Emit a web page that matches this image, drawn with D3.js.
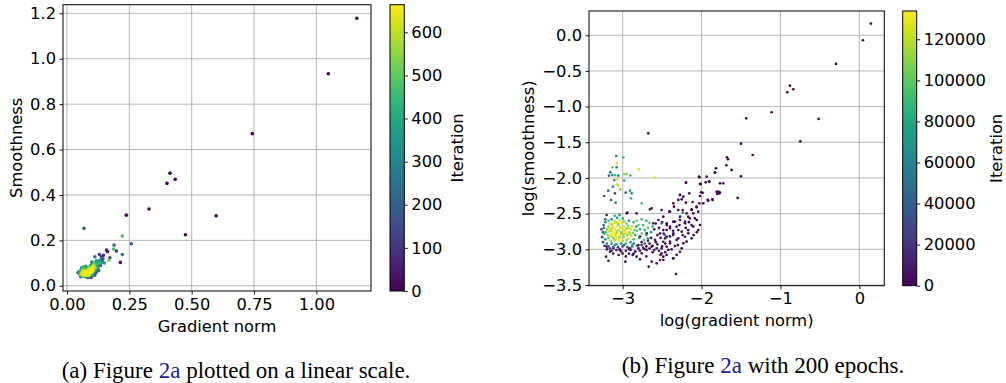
<!DOCTYPE html>
<html>
<head>
<meta charset="utf-8">
<script src="https://cdn.jsdelivr.net/npm/d3@7"></script>
<style>
body { margin: 0; background: #fff; }
svg text { font-family: "DejaVu Sans", sans-serif; fill: #000; }
.caption { font-family: "Liberation Serif", "Times New Roman", serif; }
.grid line { stroke: #b0b0b0; stroke-width: 0.9; }
</style>
</head>
<body>
<svg id="fig" width="1006" height="383"></svg>
<script>
// -------------------------------- Datos ------------------------------
// panel (a): [gradient norm, smoothness, iteration]
const leftOutliers = [
  [1.162,1.178,0],[1.048,0.934,1],[0.743,0.670,2],[0.413,0.496,4],[0.434,0.469,5],[0.401,0.451,3],
  [0.329,0.338,8],[0.238,0.311,10],[0.598,0.308,6],[0.475,0.225,7],[0.214,0.103,30],[0.068,0.253,200],
  [0.258,0.185,190],[0.222,0.219,470],[0.222,0.138,240],[0.189,0.179,300],[0.187,0.162,480],
  [0.198,0.153,110],[0.159,0.157,70],[0.163,0.150,60],[0.172,0.123,160],[0.167,0.113,520],
  [0.146,0.134,90],[0.130,0.138,120],[0.140,0.121,210],[0.112,0.128,280],[0.130,0.099,450],
  [0.150,0.100,330],[0.127,0.066,230],[0.096,0.037,40],[0.112,0.047,170],[0.045,0.058,50]
];
const leftCore = [
  [0.062,0.052,600],[0.065,0.056,640],[0.068,0.050,520],[0.070,0.060,655],[0.072,0.054,590],[0.074,0.058,480],
  [0.076,0.048,610],[0.078,0.062,645],[0.080,0.056,575],[0.082,0.050,660],[0.084,0.060,505],[0.086,0.064,625],
  [0.088,0.054,585],[0.090,0.058,650],[0.092,0.068,540],[0.094,0.062,570],[0.096,0.072,635],[0.098,0.066,595],
  [0.100,0.076,655],[0.102,0.070,490],[0.104,0.080,620],[0.106,0.074,600],[0.060,0.048,565],[0.066,0.046,612],
  [0.071,0.066,590],[0.075,0.070,530],[0.079,0.045,648],[0.083,0.068,603],[0.087,0.072,628],[0.091,0.050,577],
  [0.095,0.056,642],[0.099,0.080,598],[0.103,0.086,618],[0.108,0.090,560],[0.064,0.060,608],[0.069,0.064,586],
  [0.073,0.046,633],[0.077,0.052,652],[0.081,0.064,571],[0.085,0.046,622],[0.089,0.066,644],[0.093,0.058,597],
  [0.097,0.060,612],[0.101,0.064,658],[0.105,0.068,583],[0.110,0.084,609],[0.058,0.054,626],[0.063,0.064,592],
  [0.067,0.058,640],[0.086,0.058,568],[0.078,0.056,660],[0.092,0.076,574]
];
const leftHalo = [
  [0.050,0.052,420],[0.054,0.060,380],[0.056,0.048,500],[0.052,0.066,450],[0.058,0.074,340],[0.060,0.080,300],
  [0.064,0.072,520],[0.066,0.084,460],[0.072,0.078,400],[0.076,0.086,350],[0.070,0.042,310],[0.080,0.040,280],
  [0.086,0.042,360],[0.090,0.044,430],[0.094,0.046,250],[0.098,0.050,390],[0.102,0.056,470],[0.106,0.060,320],
  [0.110,0.064,410],[0.114,0.070,270],[0.112,0.078,540],[0.116,0.082,300],[0.118,0.090,440],[0.120,0.096,350],
  [0.114,0.098,260],[0.108,0.100,490],[0.100,0.092,380],[0.094,0.088,320],[0.088,0.082,510],[0.082,0.078,290],
  [0.120,0.076,420],[0.124,0.084,270],[0.126,0.092,330],[0.122,0.104,390],[0.118,0.110,300],[0.128,0.106,250],
  [0.132,0.112,360],[0.136,0.100,310],[0.104,0.046,330],[0.074,0.040,240],[0.096,0.040,200],[0.060,0.044,180],
  [0.100,0.104,220],[0.126,0.070,210],[0.134,0.090,150],[0.140,0.108,180],[0.144,0.118,130],[0.138,0.128,100],
  [0.116,0.058,160],[0.108,0.052,140],[0.048,0.056,380],[0.055,0.040,260],[0.084,0.036,190]
];

// panel (b): [log(gradient norm), log(smoothness), iteration]
const rightTail = [
  [0.147,0.164,0],[0.046,-0.070,50],[-0.296,-0.402,100],[-0.879,-0.706,200],[-0.913,-0.799,150],
  [-0.837,-0.757,250],[-1.112,-1.079,300],[-1.433,-1.164,350],[-0.516,-1.173,400],[-0.748,-1.486,450],
  [-1.500,-1.519,500],[-1.352,-1.678,550],[-1.678,-1.710,600],[-1.665,-1.738,650],[-1.686,-1.822,700],
  [-1.619,-1.888,750],[-1.817,-1.864,800],[-1.830,-1.925,850],[-1.500,-1.977,900],[-1.542,-2.280,950],
  [-1.766,-2.075,1000],[-1.787,-2.192,1050],[-1.800,-2.224,1100],[-1.766,-2.206,1150],[-1.906,-2.051,1200],
  [-1.948,-2.061,1250],[-1.923,-2.308,1300],[-1.863,-2.299,1350],[-2.028,-1.991,1400],[-2.020,-2.084,1450],
  [-2.007,-2.201,1500],[-2.197,-2.065,1550],[-2.675,-1.374,1600],[-2.324,-3.346,1650]
];
const rightSpread = [
  [-2.033,-1.982,1800],[-1.935,-1.982,1200],[-1.830,-1.926,900],[-2.198,-2.066,2600],[-2.011,-2.085,1500],
  [-1.902,-2.052,1100],[-1.725,-2.075,800],[-2.274,-2.239,3200],[-2.231,-2.262,2900],[-2.156,-2.215,2300],
  [-1.986,-2.207,1700],[-2.020,-2.253,2000],[-1.809,-2.193,1000],[-1.775,-2.215,1300],[-1.859,-2.309,1400],
  [-1.914,-2.318,1600],[-2.350,-2.403,3600],[-2.198,-2.346,2700],[-2.113,-2.337,2400],[-1.978,-2.355,1900],
  [-2.062,-2.412,2200],[-2.126,-2.440,2500],[-2.042,-2.473,2100],[-2.105,-2.496,2800],[-2.295,-2.449,3300],
  [-2.400,-2.473,3900],[-2.169,-2.543,3000],[-2.084,-2.566,2600],[-2.274,-2.589,3400],[-2.359,-2.613,3800],
  [-2.442,-2.636,4200],[-2.210,-2.636,3100],[-2.126,-2.660,2900],[-2.316,-2.683,3700],[-2.400,-2.706,4100],
  [-2.485,-2.730,4600],[-2.252,-2.753,3500],[-2.169,-2.730,3200],[-2.359,-2.800,4000],[-2.442,-2.824,4400],
  [-2.295,-2.846,3900],[-2.210,-2.824,3600],[-2.485,-2.894,4800],[-2.400,-2.916,4500],[-2.337,-2.954,4300],
  [-2.506,-2.986,5000],[-2.274,-3.034,4700],[-2.442,-3.080,5200],[-2.359,-3.127,4900],[-2.485,-3.150,5400],
  [-2.670,-3.243,5600],[-2.966,-3.173,6000],[-3.211,-3.103,6500],[-2.527,-3.150,5300],[-2.485,-3.103,5100],
  [-2.358,-3.126,4600],[-2.316,-3.079,4400],[-2.823,-3.103,5800],[-2.759,-3.056,5700],[-2.873,-3.079,5900],
  [-2.632,-3.173,5500],[-2.569,-3.196,5400],[-2.231,-2.916,3800],[-2.189,-2.893,3500],[-2.252,-2.986,4100],
  [-2.442,-2.963,4700],[-2.358,-2.776,3900],[-2.294,-2.729,3600],[-2.104,-2.682,2700],[-2.041,-2.729,2400],
  [-2.020,-2.659,2200],[-2.062,-2.589,2300],[-2.147,-2.565,2800],[-2.210,-2.612,3000],[-2.189,-2.495,2900],
  [-2.125,-2.449,2600],[-2.062,-2.402,2100],[-2.028,-2.355,1900],[-2.239,-2.449,3100],[-2.358,-2.355,3300],
  [-2.409,-2.472,3700],[-2.485,-2.542,4000],[-2.548,-2.589,4300],[-2.611,-2.636,4600],[-2.654,-2.439,4800],
  [-2.633,-2.425,4500],[-2.506,-2.449,4100],[-2.273,-2.238,2900],[-2.252,-2.299,3000],[-2.294,-2.308,3200],
  [-2.949,-2.495,6800],[-2.823,-2.495,6200],[-3.203,-2.519,7000],[-2.780,-2.822,5600],[-2.696,-2.776,5300],
  [-2.590,-2.869,5000],[-2.527,-2.776,4700],[-2.463,-2.846,4500],[-2.400,-2.893,4300],[-2.569,-2.986,5100],
  [-2.696,-3.009,5500],[-2.632,-2.963,5200],[-2.801,-2.986,5700],[-2.907,-2.986,6100],[-3.034,-3.009,6600],
  [-3.118,-2.986,6900],[-3.203,-2.963,7200],[-3.161,-3.033,7400],[-2.442,-2.729,4200],[-2.400,-2.682,4000],
  [-2.337,-2.612,3700],[-2.273,-2.542,3400],[-2.168,-2.776,3100],[-2.125,-2.846,2900],[-2.316,-2.869,3800],
  [-2.506,-3.056,4900],[-2.421,-3.009,4600],
  [-2.60,-2.72,5000],[-2.56,-2.80,4800],[-2.64,-2.84,5200],[-2.58,-2.90,4600],[-2.52,-2.84,4400],
  [-2.48,-2.78,4300],[-2.54,-2.70,4700],[-2.66,-2.92,5500],[-2.70,-2.96,5800],[-2.74,-2.98,6000],
  [-2.62,-3.04,5400],[-2.46,-2.92,4200],[-2.40,-2.82,3900],[-2.36,-2.74,3600],[-2.44,-2.66,4100],
  [-2.50,-2.62,4500],[-2.58,-2.64,4900],[-2.38,-3.00,4000],[-2.30,-2.94,3500],[-2.20,-2.70,2800],
  [-2.16,-2.62,2600],[-2.06,-2.76,2300],[-2.10,-2.80,2500],[-2.24,-2.80,3200],[-2.28,-2.66,3300],
  [-2.68,-2.88,5600],[-2.76,-2.90,6200],[-2.80,-2.94,6400],[-2.86,-3.06,6700],[-2.92,-3.06,7000],
  [-3.00,-3.06,7300],[-2.52,-3.08,5100],[-2.46,-3.04,4800],[-2.70,-3.10,5900],[-2.78,-3.14,6300],
  [-3.12,-3.06,7600],[-3.18,-3.16,7800],[-2.94,-2.487,6500],
  [-3.20,-3.00,5000],[-3.14,-3.02,7000],[-3.08,-3.01,4000],[-3.02,-3.03,8000],[-2.96,-3.02,6000],
  [-2.90,-3.01,9000],[-2.84,-3.03,3000],[-2.78,-3.02,5500],[-2.72,-3.00,7500],[-2.66,-2.99,4500],
  [-2.60,-3.01,6500],[-2.54,-3.02,8500],[-2.62,-2.95,3500],[-2.56,-2.93,9500],[-2.50,-2.96,2500],
  [-3.05,-3.08,6000],[-2.96,-3.10,4000]
];
const rightStray = [
  [-2.240,-2.487,60000],[-2.506,-2.636,56000],[-2.464,-2.800,62000]
];
const rightUpper = [
  [-3.081,-1.692,62000],[-2.992,-1.711,92000],[-3.076,-1.790,124000],[-3.127,-1.851,108000],[-3.076,-1.851,66000],
  [-3.157,-1.921,50000],[-3.174,-1.968,40000],[-3.132,-1.959,64000],[-3.098,-1.959,96000],[-3.056,-1.968,60000],
  [-3.106,-2.029,68000],[-3.072,-2.020,128000],[-2.980,-1.945,112000],[-2.950,-1.945,104000],[-2.903,-1.963,94000],
  [-2.797,-1.879,126000],[-2.591,-1.991,130000],[-2.980,-2.038,90000],[-3.072,-2.089,126000],[-3.056,-2.108,120000],
  [-3.123,-2.122,62000],[-3.182,-2.178,42000],[-3.098,-2.215,30000],[-3.030,-2.160,110000],[-2.962,-2.206,44000],
  [-2.907,-2.178,70000],[-2.886,-2.215,66000],[-3.233,-2.253,38000],[-3.148,-2.309,36000],[-3.089,-2.346,58000],
  [-2.894,-2.285,88000],[-2.759,-2.355,98000]
];
const rightCore = [
  [-3.10,-2.60,118000],[-3.04,-2.60,125000],[-2.98,-2.61,110000],
  [-3.16,-2.64,122000],[-3.11,-2.63,131000],[-3.06,-2.64,115000],[-3.01,-2.63,128000],[-2.95,-2.64,104000],
  [-3.18,-2.68,112000],[-3.13,-2.67,127000],[-3.08,-2.68,133000],[-3.03,-2.69,120000],[-2.98,-2.68,124000],
  [-2.93,-2.67,108000],[-2.88,-2.68,116000],
  [-3.20,-2.72,106000],[-3.15,-2.71,121000],[-3.10,-2.72,130000],[-3.05,-2.73,117000],[-3.00,-2.72,126000],
  [-2.95,-2.71,113000],[-2.90,-2.72,123000],[-2.85,-2.73,102000],
  [-3.21,-2.76,100000],[-3.17,-2.75,119000],[-3.12,-2.76,132000],[-3.07,-2.77,124000],[-3.02,-2.76,111000],
  [-2.97,-2.75,129000],[-2.92,-2.76,118000],[-2.87,-2.77,107000],
  [-3.19,-2.80,114000],[-3.14,-2.79,126000],[-3.09,-2.81,121000],[-3.04,-2.80,133000],[-2.99,-2.79,115000],
  [-2.94,-2.80,109000],[-2.89,-2.81,120000],
  [-3.18,-2.84,103000],[-3.13,-2.83,117000],[-3.08,-2.85,128000],[-3.03,-2.84,122000],[-2.98,-2.83,112000],
  [-2.93,-2.85,125000],
  [-3.15,-2.88,110000],[-3.10,-2.87,119000],[-3.05,-2.89,131000],[-3.00,-2.88,114000],[-2.95,-2.87,105000],
  [-3.125,-2.70,127000],[-3.075,-2.745,119000],[-3.025,-2.705,131000],[-2.975,-2.735,122000],[-3.055,-2.66,113000],
  [-3.095,-2.785,125000],[-3.045,-2.825,118000],[-2.965,-2.775,129000],[-3.145,-2.735,116000],[-3.165,-2.815,121000],
  [-3.015,-2.785,111000],[-3.115,-2.845,108000],[-2.925,-2.695,120000],[-3.085,-2.625,126000],[-3.035,-2.865,132000],
  [-2.905,-2.785,117000],[-3.185,-2.705,123000],[-3.135,-2.655,114000]
];
const rightHalo = [
  [-3.22,-2.62,70000],[-3.24,-2.70,62000],[-3.23,-2.78,75000],[-3.22,-2.86,66000],[-3.20,-2.92,58000],
  [-3.14,-2.92,72000],[-3.08,-2.93,80000],[-3.02,-2.92,68000],[-2.96,-2.92,88000],[-2.90,-2.90,76000],
  [-2.86,-2.86,92000],[-2.84,-2.80,84000],[-2.82,-2.74,96000],[-2.83,-2.68,78000],[-2.86,-2.62,90000],
  [-2.92,-2.60,70000],[-3.00,-2.57,82000],[-3.07,-2.56,74000],[-3.14,-2.58,64000],[-3.18,-2.60,88000],
  [-2.80,-2.66,98000],[-2.78,-2.72,86000],[-2.76,-2.78,100000],[-2.79,-2.84,72000],[-2.74,-2.66,94000],
  [-2.72,-2.73,82000],[-2.70,-2.80,66000],[-2.73,-2.87,90000],[-2.68,-2.70,104000],[-2.66,-2.63,98000],
  [-2.70,-2.60,86000],[-2.76,-2.58,92000],[-2.82,-2.60,104000],[-2.64,-2.76,74000],[-2.62,-2.68,80000],
  [-2.68,-2.85,60000],[-2.88,-2.94,84000],[-3.04,-2.52,66000],[-3.10,-2.53,86000]
];
const rightBottom = [
  [-3.25,-2.76,30000],[-3.26,-2.83,22000],[-3.25,-2.90,35000],[-3.23,-2.95,18000],[-3.18,-2.96,26000],
  [-3.12,-2.97,40000],[-3.06,-2.97,20000],[-3.00,-2.96,32000],[-2.94,-2.97,24000],[-2.88,-2.96,45000],
  [-2.82,-2.95,28000],[-2.76,-2.94,16000],[-2.72,-2.92,36000],[-3.24,-2.66,42000],[-3.27,-2.72,25000],
  [-3.22,-2.58,48000],[-3.16,-2.99,14000],[-3.04,-3.00,12000],[-2.92,-3.00,10000],[-2.80,-2.99,18000],
  [-3.10,-2.94,50000],[-2.98,-2.94,44000],[-2.86,-2.92,52000]
];

// ticks
const leftXTicks = [0, 0.25, 0.5, 0.75, 1.0];
const leftYTicks = [0, 0.2, 0.4, 0.6, 0.8, 1.0, 1.2];
const leftCTicks = [0, 100, 200, 300, 400, 500, 600];
const rightXTicks = [-3, -2, -1, 0];
const rightYTicks = [-3.5, -3.0, -2.5, -2.0, -1.5, -1.0, -0.5, 0.0];
const rightCTicks = [0, 20000, 40000, 60000, 80000, 100000, 120000];

// -------------------------------- Grafico ----------------------------
const FONT = 16.3;
const TICK = 3.5;
const svg = d3.select("#fig");

// gradiente viridis para las barras de color
const grad = svg.append("defs").append("linearGradient")
  .attr("id", "viridis").attr("x1", 0).attr("y1", 1).attr("x2", 0).attr("y2", 0);
d3.range(0, 1.0001, 0.05).forEach(t => {
  grad.append("stop").attr("offset", t).attr("stop-color", d3.interpolateViridis(t));
});

function styleAxis(g) {
  g.select(".domain").remove();
  g.selectAll(".tick line").attr("stroke", "#000").attr("stroke-width", 0.9);
  g.selectAll(".tick text").attr("font-size", FONT).attr("font-family", "DejaVu Sans").attr("fill", "#000");
}

function panel(p) {
  const x = d3.scaleLinear().domain(p.xDom).range([p.left, p.right]);
  const y = d3.scaleLinear().domain(p.yDom).range([p.bottom, p.top]);
  const color = d3.scaleSequential(d3.interpolateViridis).domain([0, p.cMax]);
  const g = svg.append("g");

  const grid = g.append("g").attr("class", "grid");
  grid.selectAll("line.v").data(p.xTicks).join("line").attr("class", "v")
    .attr("x1", d => x(d)).attr("x2", d => x(d)).attr("y1", p.top).attr("y2", p.bottom);
  grid.selectAll("line.h").data(p.yTicks).join("line").attr("class", "h")
    .attr("y1", d => y(d)).attr("y2", d => y(d)).attr("x1", p.left).attr("x2", p.right);

  const pts = p.points.slice().sort((a, b) => a[2] - b[2]);
  g.append("g").selectAll("circle").data(pts).join("circle")
    .attr("cx", d => x(d[0])).attr("cy", d => y(d[1]))
    .attr("r", p.r).attr("fill", d => color(d[2]));

  g.append("rect").attr("x", p.left).attr("y", p.top)
    .attr("width", p.right - p.left).attr("height", p.bottom - p.top)
    .attr("fill", "none").attr("stroke", "#000").attr("stroke-width", 1);

  g.append("g").attr("transform", `translate(0,${p.bottom})`)
    .call(d3.axisBottom(x).tickValues(p.xTicks).tickFormat(p.xFmt).tickSize(TICK).tickPadding(3.5))
    .call(styleAxis);
  g.append("g").attr("transform", `translate(${p.left},0)`)
    .call(d3.axisLeft(y).tickValues(p.yTicks).tickFormat(p.yFmt).tickSize(TICK).tickPadding(3.5))
    .call(styleAxis);

  g.append("text").attr("x", (p.left + p.right) / 2).attr("y", p.xLabelY)
    .attr("text-anchor", "middle").attr("font-size", FONT).text(p.xLabel);
  g.append("text").attr("transform", `translate(${p.yLabelX},${(p.top + p.bottom) / 2}) rotate(-90)`)
    .attr("text-anchor", "middle").attr("font-size", FONT).text(p.yLabel);

  // barra de color
  const cy = d3.scaleLinear().domain([0, p.cMax]).range([p.bottom, p.top]);
  g.append("rect").attr("x", p.cbLeft).attr("y", p.top)
    .attr("width", p.cbWidth).attr("height", p.bottom - p.top)
    .attr("fill", "url(#viridis)").attr("stroke", "#000").attr("stroke-width", 1);
  g.append("g").attr("transform", `translate(${p.cbLeft + p.cbWidth},0)`)
    .call(d3.axisRight(cy).tickValues(p.cTicks).tickFormat(d3.format("d")).tickSize(TICK).tickPadding(3.5))
    .call(styleAxis);
  g.append("text").attr("transform", `translate(${p.cLabelX},${(p.top + p.bottom) / 2}) rotate(-90)`)
    .attr("text-anchor", "middle").attr("font-size", FONT).text("Iteration");
}

panel({
  left: 63, right: 371, top: 4.7, bottom: 291,
  xDom: [-0.016, 1.219], yDom: [-0.023, 1.238], cMax: 664,
  xTicks: leftXTicks, yTicks: leftYTicks, cTicks: leftCTicks,
  xFmt: d3.format(".2f"), yFmt: d3.format(".1f"),
  points: leftOutliers.concat(leftHalo, leftCore), r: 1.8,
  xLabel: "Gradient norm", xLabelY: 331.5, yLabel: "Smoothness", yLabelX: 21.5,
  cbLeft: 390, cbWidth: 14.3, cLabelX: 463
});

panel({
  left: 589, right: 884.3, top: 11, bottom: 285.7,
  xDom: [-3.427, 0.317], yDom: [-3.51, 0.34], cMax: 133770,
  xTicks: rightXTicks, yTicks: rightYTicks, cTicks: rightCTicks,
  xFmt: d3.format("d"), yFmt: d3.format(".1f"),
  points: rightTail.concat(rightSpread, rightStray, rightUpper, rightBottom, rightHalo, rightCore), r: 1.35,
  xLabel: "log(gradient norm)", xLabelY: 325.5, yLabel: "log(smoothness)", yLabelX: 534,
  cbLeft: 902.7, cbWidth: 14, cLabelX: 1001.5
});

// -------------------------------- Leyendas ---------------------------
const capA = svg.append("text").attr("class", "caption").attr("x", 236).attr("y", 378)
  .attr("text-anchor", "middle").attr("font-size", 23);
capA.append("tspan").text("(a) Figure ");
capA.append("tspan").attr("fill", "#1d1d9e").text("2a");
capA.append("tspan").text(" plotted on a linear scale.");

const capB = svg.append("text").attr("class", "caption").attr("x", 763).attr("y", 373)
  .attr("text-anchor", "middle").attr("font-size", 23);
capB.append("tspan").text("(b) Figure ");
capB.append("tspan").attr("fill", "#1d1d9e").text("2a");
capB.append("tspan").text(" with 200 epochs.");
</script>
</body>
</html>
